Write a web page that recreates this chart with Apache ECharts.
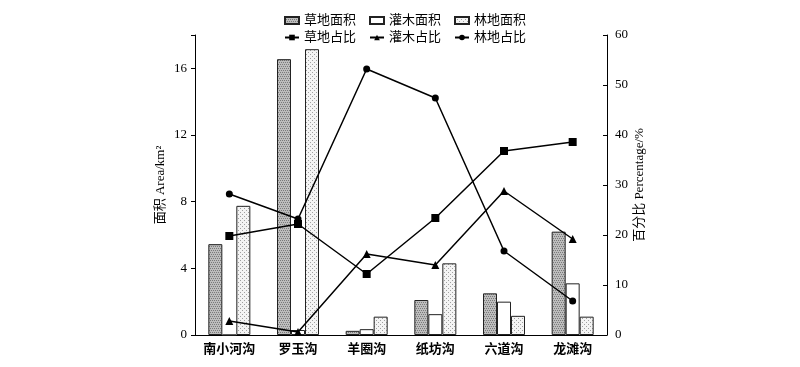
<!DOCTYPE html>
<html><head><meta charset="utf-8">
<script src="https://cdn.jsdelivr.net/npm/echarts@6/dist/echarts.min.js"></script>
<style>html,body{margin:0;padding:0;background:#fff}#c{width:800px;height:367px}</style>
</head><body><div id="c"></div>
<script>
const categories = ['南小河沟','罗玉沟','羊圈沟','纸坊沟','六道沟','龙滩沟'];
const grassArea = [5.45, 16.55, 0.25, 2.1, 2.5, 6.2];
const shrubArea = [0, 0.3, 0.35, 1.25, 2.0, 3.1];
const forestArea = [7.75, 17.15, 1.1, 4.3, 1.15, 1.1];
const grassPct = [19.8, 22.2, 12.2, 23.4, 36.8, 38.6];
const shrubPct = [2.8, 0.6, 16.2, 14.0, 28.8, 19.2];
const forestPct = [28.2, 23.2, 53.2, 47.4, 16.8, 6.8];
const leftTicks = [0, 4, 8, 12, 16];
const rightTicks = [0, 10, 20, 30, 40, 50, 60];

function pattern(bg, fg, type){
  const c = document.createElement('canvas'); c.width = 4; c.height = 4;
  const g = c.getContext('2d');
  g.fillStyle = bg; g.fillRect(0,0,4,4);
  g.fillStyle = fg;
  if (type === 'grass') { g.fillRect(0,0,1,1); g.fillRect(2,0,1,1); g.fillRect(1,2,1,1); g.fillRect(3,2,1,1); }
  else { g.fillRect(0,0,1,1); g.fillRect(2,2,1,1); }
  return c;
}
const grassFill = {image: pattern('#bdbdbd', '#7a7a7a', 'grass'), repeat: 'repeat'};
const forestFill = {image: pattern('#f4f4f4', '#a0a0a0', 'forest'), repeat: 'repeat'};

const serif = '"Liberation Serif", "Noto Sans CJK SC", serif';
const chart = echarts.init(document.getElementById('c'));
const barStyle = (fill) => ({color: fill, borderColor: '#222', borderWidth: 1});
const lineSeries = (name, data, symbol, size) => ({
  name, type: 'line', yAxisIndex: 1, data, symbol, symbolSize: size,
  lineStyle: {color: '#000', width: 1.5}, itemStyle: {color: '#000'}, z: 5
});
const legendText = {fontSize: 13, fontFamily: serif, color: '#000'};
chart.setOption({
  animation: false,
  textStyle: {fontFamily: serif, color: '#000'},
  legend: [
    {top: 9, left: 279, itemGap: 13, itemWidth: 14, itemHeight: 7, icon: 'rect',
     textStyle: legendText,
     data: ['草地面积','灌木面积','林地面积']},
    {top: 26, left: 279, itemGap: 13, itemWidth: 14, itemHeight: 7,
     textStyle: legendText,
     data: ['草地占比','灌木占比','林地占比']}
  ],
  grid: {left: 195, right: 193, top: 35, bottom: 32},
  xAxis: {
    type: 'category', data: categories,
    axisLine: {lineStyle: {color: '#000'}}, axisTick: {show: false},
    axisLabel: {fontSize: 13, color: '#000', fontWeight: 'bold', margin: 8, fontFamily: serif}
  },
  yAxis: [
    {type: 'value', min: 0, max: 18, interval: 4,
     name: '面积 Area/km²', nameLocation: 'middle', nameGap: 28, nameRotate: 90, nameMoveOverlap: false,
     nameTextStyle: {fontSize: 13, color: '#000', fontFamily: serif},
     axisLine: {show: true, lineStyle: {color: '#000'}},
     axisTick: {show: true, length: 4, lineStyle: {color: '#000'}},
     axisLabel: {fontSize: 13, color: '#000', fontFamily: serif,
       formatter: v => leftTicks.includes(v) ? String(v) : ''},
     splitLine: {show: false}},
    {type: 'value', min: 0, max: 60, interval: 10,
     name: '百分比 Percentage/%', nameLocation: 'middle', nameGap: 26, nameRotate: 90, nameMoveOverlap: false,
     nameTextStyle: {fontSize: 13, color: '#000', fontFamily: serif},
     axisLine: {show: true, lineStyle: {color: '#000'}},
     axisTick: {show: true, inside: true, length: 4, lineStyle: {color: '#000'}},
     axisLabel: {fontSize: 13, color: '#000', fontFamily: serif,
       formatter: v => rightTicks.includes(v) ? String(v) : ''},
     splitLine: {show: false}}
  ],
  series: [
    {name: '草地面积', type: 'bar', data: grassArea, barWidth: 14, barGap: '0%', itemStyle: barStyle(grassFill)},
    {name: '灌木面积', type: 'bar', data: shrubArea, barWidth: 14, barGap: '0%', itemStyle: barStyle('#fff')},
    {name: '林地面积', type: 'bar', data: forestArea, barWidth: 14, barGap: '0%', itemStyle: barStyle(forestFill)},
    lineSeries('草地占比', grassPct, 'rect', 8),
    lineSeries('灌木占比', shrubPct, 'triangle', 8),
    lineSeries('林地占比', forestPct, 'circle', 7)
  ]
});
</script></body></html>
